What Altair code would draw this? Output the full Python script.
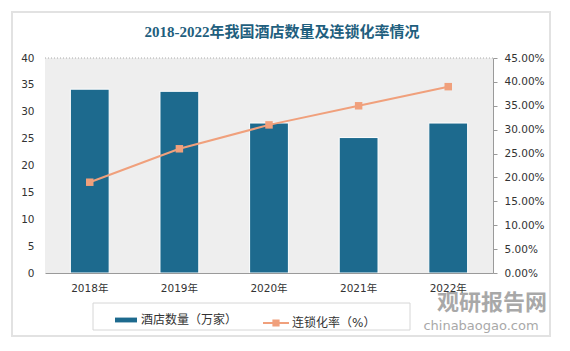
import altair as alt
import pandas as pd

years = ["2018年", "2019年", "2020年", "2021年", "2022年"]
hotels = [34.2, 33.8, 27.9, 25.2, 27.9]
chain_rate = [0.19, 0.26, 0.31, 0.35, 0.39]
bar_name = "酒店数量（万家）"
line_name = "连锁化率（%）"
title_text = "2018-2022年我国酒店数量及连锁化率情况"
left_ticks = [0, 5, 10, 15, 20, 25, 30, 35, 40]
right_ticks = [0, 0.05, 0.10, 0.15, 0.20, 0.25, 0.30, 0.35, 0.40, 0.45]

df = pd.DataFrame({"year": years, "hotels": hotels, "rate": chain_rate,
                   "s_bar": bar_name, "s_line": line_name})
one = pd.DataFrame({"k": [0]})

W, H = 448, 215
FONT = "DejaVu Sans, Noto Sans CJK SC"
BAR_C = "#1d6a8e"
LINE_C = "#f0a07c"
TXT = "#333333"

x_enc = alt.X("year:N", sort=years, title=None,
              scale=alt.Scale(paddingInner=0.567, paddingOuter=0.283),
              axis=alt.Axis(labelAngle=0, domainColor="#9a9a9a", ticks=False,
                            labelPadding=10, labelFont=FONT, labelFontSize=10.5,
                            labelColor=TXT, grid=False, zindex=1))

card = alt.Chart(one).mark_rect(fill="white", stroke="#e2e2e2", strokeWidth=2).encode(
    x=alt.value(-33), x2=alt.value(505), y=alt.value(-46), y2=alt.value(278))
plot_bg = alt.Chart(one).mark_rect(fill="#eeeeee").encode(
    x=alt.value(0), x2=alt.value(W), y=alt.value(0), y2=alt.value(H))
top_rule = alt.Chart(one).mark_rule(color="#aaaaaa", strokeDash=[1, 2]).encode(
    x=alt.value(0), x2=alt.value(W), y=alt.value(0))
legend_box = alt.Chart(one).mark_rect(fill="white", stroke="#d6d6d6", strokeWidth=1).encode(
    x=alt.value(48), x2=alt.value(365), y=alt.value(245), y2=alt.value(272))
title_mark = alt.Chart(one).mark_text(text=title_text,
                                      font="Liberation Serif, Noto Sans CJK SC",
                                      fontSize=15, fontWeight="bold", color="#1f5f7e",
                                      align="center", baseline="middle").encode(
    x=alt.value(237), y=alt.value(-26))

bars = alt.Chart(df).mark_bar(stroke="white", strokeWidth=1).encode(
    x=x_enc,
    y=alt.Y("hotels:Q", title=None, scale=alt.Scale(domain=[0, 40], nice=False),
            axis=alt.Axis(values=left_ticks, domain=False, ticks=False, grid=False,
                          labelPadding=11, labelFont=FONT, labelFontSize=10.5,
                          labelColor=TXT, zindex=1)),
    fill=alt.Fill("s_bar:N", scale=alt.Scale(range=[BAR_C]),
                  legend=alt.Legend(orient="none", legendX=70, legendY=251, title=None,
                                    symbolType="M-1,-0.22H1V0.22H-1Z", symbolSize=484,
                                    symbolStrokeWidth=0, labelFont=FONT, labelFontSize=12,
                                    labelColor=TXT, labelOffset=4)),
)

right_axis = alt.Axis(values=right_ticks, format=".2%", domainColor="#9a9a9a",
                      tickColor="#9a9a9a", tickSize=4, grid=False, orient="right",
                      labelPadding=7, labelFont=FONT, labelFontSize=10.5, labelColor=TXT,
                      zindex=1)
y_rate = alt.Y("rate:Q", title=None, scale=alt.Scale(domain=[0, 0.45], nice=False),
               axis=right_axis)

line = alt.Chart(df).mark_line(strokeWidth=2).encode(
    x=x_enc, y=y_rate,
    stroke=alt.Stroke("s_line:N", scale=alt.Scale(range=[LINE_C]),
                      legend=alt.Legend(orient="none", legendX=217, legendY=251, title=None,
                                        symbolType="M-1,0H1M-0.2,-0.2H0.2V0.2H-0.2Z",
                                        symbolSize=676, symbolFillColor=LINE_C,
                                        symbolStrokeWidth=2, labelFont=FONT,
                                        labelFontSize=12, labelColor=TXT, labelOffset=2)),
)
points = alt.Chart(df).mark_square(size=56, color=LINE_C, opacity=1).encode(
    x=x_enc, y=y_rate)

wm1 = alt.Chart(one).mark_text(text="观研报告网", font="Noto Sans CJK SC", fontSize=22,
                               fontWeight="bold", color="#8c8c8c", opacity=0.75,
                               baseline="middle").encode(
    x=alt.value(447), y=alt.value(245))
wm2 = alt.Chart(one).mark_text(text="chinabaogao.com", font=FONT, fontSize=13,
                               color="#8c8c8c", opacity=0.75, baseline="middle").encode(
    x=alt.value(436), y=alt.value(268))

rate_layer = alt.layer(line, points)

chart = alt.layer(card, plot_bg, top_rule, legend_box, title_mark, bars, rate_layer,
                  wm1, wm2).resolve_scale(
    y="independent"
).properties(
    width=W, height=H,
    autosize=alt.AutoSizeParams(type="none"),
    padding={"left": 45, "top": 58, "right": 77, "bottom": 78},
).configure_view(stroke=None).configure(background="white")

chart.save("out.html", embed_options={"renderer": "svg", "actions": False})
